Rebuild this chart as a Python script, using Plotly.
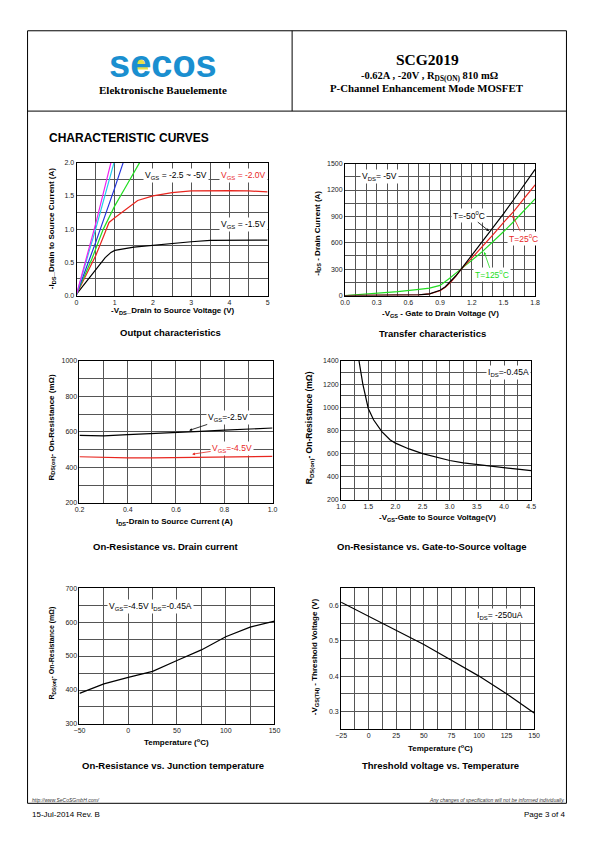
import plotly.graph_objects as go

W, H = 595, 842

# ---------------- data ----------------
# Output characteristics (-VDS in V, -IDS in A)
oc_vgs15_x = [0, 0.25, 0.5, 0.75, 0.9, 1.0, 1.5, 2.0, 2.5, 3.0, 3.5, 4.0, 5.0]
oc_vgs15_y = [0.02, 0.2, 0.38, 0.57, 0.65, 0.68, 0.73, 0.76, 0.785, 0.81, 0.83, 0.835, 0.835]
oc_vgs20_x = [0, 0.25, 0.5, 0.7, 0.85, 1.0, 1.3, 1.6, 2.0, 2.5, 3.0, 3.5, 4.0, 4.5, 5.0]
oc_vgs20_y = [0.02, 0.3, 0.6, 0.88, 1.1, 1.17, 1.3, 1.43, 1.5, 1.55, 1.575, 1.58, 1.58, 1.575, 1.56]
oc_green_x = [0, 0.4, 0.7, 1.0, 1.3, 1.65]
oc_green_y = [0.02, 0.55, 1.0, 1.35, 1.65, 2.0]
oc_blue_x = [0, 0.5, 1.0, 1.22]
oc_blue_y = [0.02, 0.8, 1.62, 2.0]
oc_cyan_x = [0, 0.5, 0.98]
oc_cyan_y = [0.02, 1.0, 2.0]
oc_mag_x = [0, 0.5, 0.9]
oc_mag_y = [0.02, 1.08, 2.0]

# Transfer characteristics (-VGS in V, -ID)
tc_vgs = [0, 0.3, 0.5, 0.7, 0.8, 0.9, 0.95, 1.0, 1.05, 1.1, 1.2, 1.3, 1.4, 1.5, 1.6, 1.7, 1.8]
tc_m50 = [0, 1, 2, 8, 20, 60, 100, 160, 225, 300, 455, 610, 770, 930, 1095, 1265, 1435]
tc_25 = [0, 1, 2, 8, 18, 55, 95, 150, 220, 300, 425, 555, 690, 830, 960, 1110, 1260]
tc_125 = [0, 25, 45, 70, 85, 115, 155, 205, 255, 300, 400, 500, 610, 725, 845, 970, 1100]

# On-resistance vs drain current
rd_ids = [0.2, 0.3, 0.4, 0.5, 0.6, 0.7, 0.8, 0.9, 1.0]
rd_vgs25 = [580, 578, 585, 590, 595, 603, 610, 616, 622]
rd_vgs45 = [460, 456, 453, 454, 456, 458, 460, 461, 462]

# On-resistance vs gate-source voltage
rg_vgs = [1.33, 1.4, 1.5, 1.6, 1.75, 1.9, 2.0, 2.25, 2.5, 2.75, 3.0, 3.25, 3.5, 3.75, 4.0, 4.25, 4.5]
rg_r = [1400, 1200, 990, 890, 790, 720, 690, 640, 600, 568, 540, 520, 505, 490, 476, 465, 452]

# On-resistance vs junction temperature
rt_t = [-50, -25, 0, 25, 50, 75, 100, 125, 150]
rt_r = [390, 418, 437, 455, 487, 518, 557, 585, 603]

# Threshold voltage vs temperature
vt_t = [-25, 0, 25, 50, 75, 100, 125, 150]
vt_v = [0.61, 0.57, 0.53, 0.49, 0.445, 0.40, 0.35, 0.295]

# ---------------- helpers ----------------
def px(x):
    return x / W

def py(y):
    return 1 - y / H

AR = "Liberation Sans, Arial, sans-serif"
SER = "Liberation Serif, Times New Roman, serif"
GRID = "#555555"

fig = go.Figure()

def line(x, y, color, n):
    fig.add_trace(go.Scatter(x=x, y=y, mode="lines", line=dict(color=color, width=1.2),
                             xaxis="x" + ("" if n == 1 else str(n)),
                             yaxis="y" + ("" if n == 1 else str(n)),
                             showlegend=False, hoverinfo="skip"))

line(oc_vgs15_x, oc_vgs15_y, "black", 1)
line(oc_vgs20_x, oc_vgs20_y, "#e8261f", 1)
line(oc_green_x, oc_green_y, "#22dd22", 1)
line(oc_blue_x, oc_blue_y, "#2233dd", 1)
line(oc_cyan_x, oc_cyan_y, "#22ccee", 1)
line(oc_mag_x, oc_mag_y, "#ee22ee", 1)

line(tc_vgs, tc_125, "#22dd22", 2)
line(tc_vgs, tc_25, "#e8261f", 2)
line(tc_vgs, tc_m50, "black", 2)

line(rd_ids, rd_vgs25, "black", 3)
line(rd_ids, rd_vgs45, "#e8261f", 3)

line(rg_vgs, rg_r, "black", 4)
line(rt_t, rt_r, "black", 5)
line(vt_t, vt_v, "black", 6)

def axes(n, xd, yd, xr, yr, xdt, ydt, xmin, ymin, xfmt=None, yfmt=None):
    sx = "" if n == 1 else str(n)
    common = dict(showline=True, mirror=True, linecolor="black", linewidth=1,
                  showgrid=True, gridcolor=GRID, gridwidth=0.6, zeroline=False,
                  ticks="", tickfont=dict(family=AR, size=7, color="#222"))
    fig.layout["xaxis" + sx] = dict(domain=[px(xd[0]), px(xd[1])], range=xr, dtick=xdt,
                                    tick0=xr[0], anchor="y" + sx, tickformat=xfmt,
                                    minor=dict(dtick=xmin, tick0=xr[0], showgrid=True, gridcolor=GRID, gridwidth=0.6, ticks=""),
                                    **common)
    fig.layout["yaxis" + sx] = dict(domain=[py(yd[1]), py(yd[0])], range=yr, dtick=ydt,
                                    tick0=yr[0], anchor="x" + sx, tickformat=yfmt,
                                    minor=dict(dtick=ymin, tick0=yr[0], showgrid=True, gridcolor=GRID, gridwidth=0.6, ticks=""),
                                    **common)

axes(1, (72, 267), (160, 294), [0, 5], [0, 2], 1, 0.5, 0.5, 0.25, None, ".1f")
axes(2, (346, 540), (161, 294), [0, 1.8], [0, 1500], 0.3, 300, 0.1, 150, ".1f", None)
axes(3, (75, 272), (360, 503), [0.2, 1.0], [200, 1000], 0.2, 200, 0.1, 100, ".1f", None)
axes(4, (342, 536), (360, 500), [1.0, 4.5], [200, 1400], 0.5, 200, 0.25, 100, ".1f", None)
axes(5, (75, 274), (589, 726), [-50, 150], [300, 700], 50, 100, 25, 50, None, None)
axes(6, (342, 539), (589, 731), [-25, 150], [0.25, 0.65], 25, 0.1, 12.5, 0.05, None, ".1f")
fig.layout.yaxis6.tick0 = 0.3
fig.layout.yaxis6.minor.tick0 = 0.3

ann = []

def txt(x, y, s, size=8, bold=False, font=AR, color="black", angle=0, xanchor="center", bg=None, italic=False):
    if bold:
        s = "<b>" + s + "</b>"
    if italic:
        s = "<i>" + s + "</i>"
    d = dict(x=px(x), y=py(y), xref="paper", yref="paper", text=s, showarrow=False,
             font=dict(family=font, size=size, color=color), textangle=angle,
             xanchor=xanchor, yanchor="middle")
    if bg:
        d["bgcolor"] = bg
    ann.append(d)

def arrowtxt(x, y, tx, ty, s, color, size=8.5):
    ann.append(dict(x=px(x), y=py(y), xref="paper", yref="paper", text=s, showarrow=True,
                    ax=tx - x, ay=ty - y, arrowhead=2, arrowsize=0.7, arrowwidth=0.8,
                    arrowcolor=color, font=dict(family=AR, size=size, color=color),
                    bgcolor="white"))

# header
txt(160, 60, "secos", size=38, bold=True, font=AR, color="#1a8fd0")
txt(160, 87, "Elektronische Bauelemente", size=11, bold=True, font=SER)
txt(430, 56, "SCG2019", size=15.5, bold=True, font=SER)
txt(432, 73, "-0.62A , -20V , R<sub>DS(ON)</sub> 810 mΩ", size=10.5, bold=True, font=SER)
txt(430, 85, "P-Channel Enhancement Mode MOSFET", size=10.8, bold=True, font=SER)

txt(42, 135, "CHARACTERISTIC CURVES", size=12, bold=True, xanchor="left")

# chart 1
txt(47, 227, "-I<sub>DS</sub>_Drain to Source Current (A)", size=8, bold=True, angle=-90)
txt(170, 310, "-V<sub>DS</sub>_Drain to Source Voltage (V)", size=8, bold=True)
txt(168, 331, "Output characteristics", size=9.5, bold=True)
txt(173, 173, "V<sub>GS</sub> = -2.5 ~ -5V", size=8.5, bg="white")
txt(242, 173, "V<sub>GS</sub> = -2.0V", size=8.5, color="#e8261f", bg="white")
txt(242, 222, "V<sub>GS</sub> = -1.5V", size=8.5, bg="white")

# chart 2
txt(318, 231, "-I<sub>DS</sub> - Drain Current (A)", size=8, bold=True, angle=-90)
txt(443, 313, "-V<sub>GS</sub> - Gate to Drain Voltage (V)", size=8, bold=True)
txt(435, 332, "Transfer characteristics", size=9.5, bold=True)
txt(381, 174, "V<sub>DS</sub>= -5V", size=8.5, bg="white")
arrowtxt(493, 229, 473, 213, "T=-50<sup>0</sup>C", "black")
arrowtxt(517, 213, 528, 236, "T=25<sup>0</sup>C", "#e8261f")
arrowtxt(488, 250, 496, 273, "T=125<sup>0</sup>C", "#22dd22")

# chart 3
txt(47, 427, "R<sub>DS(on)</sub>- On-Resistance (mΩ)", size=8, bold=True, angle=-90)
txt(172, 522, "I<sub>DS</sub>-Drain to Source Current (A)", size=8, bold=True)
txt(163, 547, "On-Resistance vs. Drain current", size=9.5, bold=True)
arrowtxt(187, 430, 226, 417, "V<sub>GS</sub>=-2.5V", "black")
arrowtxt(190, 454, 230, 448, "V<sub>GS</sub>=-4.5V", "#e8261f")

# chart 4
txt(310, 427, "R<sub>DS(on)</sub>- On-Resistance (mΩ)", size=8.5, bold=True, angle=-90)
txt(440, 518, "-V<sub>GS</sub>-Gate to Source Voltage(V)", size=8, bold=True)
txt(435, 547, "On-Resistance vs. Gate-to-Source voltage", size=9.5, bold=True)
txt(513, 372, "I<sub>DS</sub>=-0.45A", size=8.5, bg="white")

# chart 5
txt(47, 655, "R<sub>DS(on)</sub>- On-Resistance (mΩ)", size=7, bold=True, angle=-90)
txt(174, 744, "Temperature (<sup>o</sup>C)", size=8, bold=True)
txt(170, 768, "On-Resistance vs. Junction temperature", size=9.5, bold=True)
txt(147, 608, "V<sub>GS</sub>=-4.5V I<sub>DS</sub>=-0.45A", size=8.5, bg="white")

# chart 6
txt(315, 658, "-V<sub>GS(TH)</sub> - Threshold Voltage (V)", size=8, bold=True, angle=-90)
txt(443, 750, "Temperature (<sup>o</sup>C)", size=8, bold=True)
txt(443, 768, "Threshold voltage vs. Temperature", size=9.5, bold=True)
txt(504, 617, "I<sub>DS</sub>= -250uA", size=8.5, bg="white")

# footer
txt(24, 803, "http://www.SeCoSGmbH.com/", size=5, italic=True, xanchor="left", color="#333")
txt(573, 803, "Any changes of specification will not be informed individually.", size=5, italic=True, xanchor="right", color="#333")
txt(24, 817, "15-Jul-2014 Rev. B", size=8, xanchor="left")
txt(573, 817, "Page 3 of 4", size=8, xanchor="right")

# yellow quarter-disc accent on the logo
qd = [(134, 66), (134, 55), (138.2, 55.8), (141.8, 58.2), (144.2, 61.8), (145, 66)]
qd_path = "M " + " L ".join("{:.5f} {:.5f}".format(px(a), py(b)) for a, b in qd) + " Z"

shapes = [
    dict(type="rect", xref="paper", yref="paper", x0=px(22), x1=px(572), y0=py(806), y1=py(27),
         line=dict(color="black", width=1)),
    dict(type="line", xref="paper", yref="paper", x0=px(22), x1=px(572), y0=py(108), y1=py(108),
         line=dict(color="black", width=1)),
    dict(type="line", xref="paper", yref="paper", x0=px(292), x1=px(292), y0=py(27), y1=py(108),
         line=dict(color="black", width=1)),
    dict(type="path", xref="paper", yref="paper", path=qd_path, layer="above",
         fillcolor="#e8e04a", line=dict(width=0)),
]

fig.update_layout(width=W, height=H, margin=dict(l=0, r=0, t=0, b=0),
                  paper_bgcolor="white", plot_bgcolor="white",
                  annotations=ann, shapes=shapes, showlegend=False)

fig.write_html("out.html", config={"displayModeBar": False},
               post_script="document.body.style.margin='0';")
